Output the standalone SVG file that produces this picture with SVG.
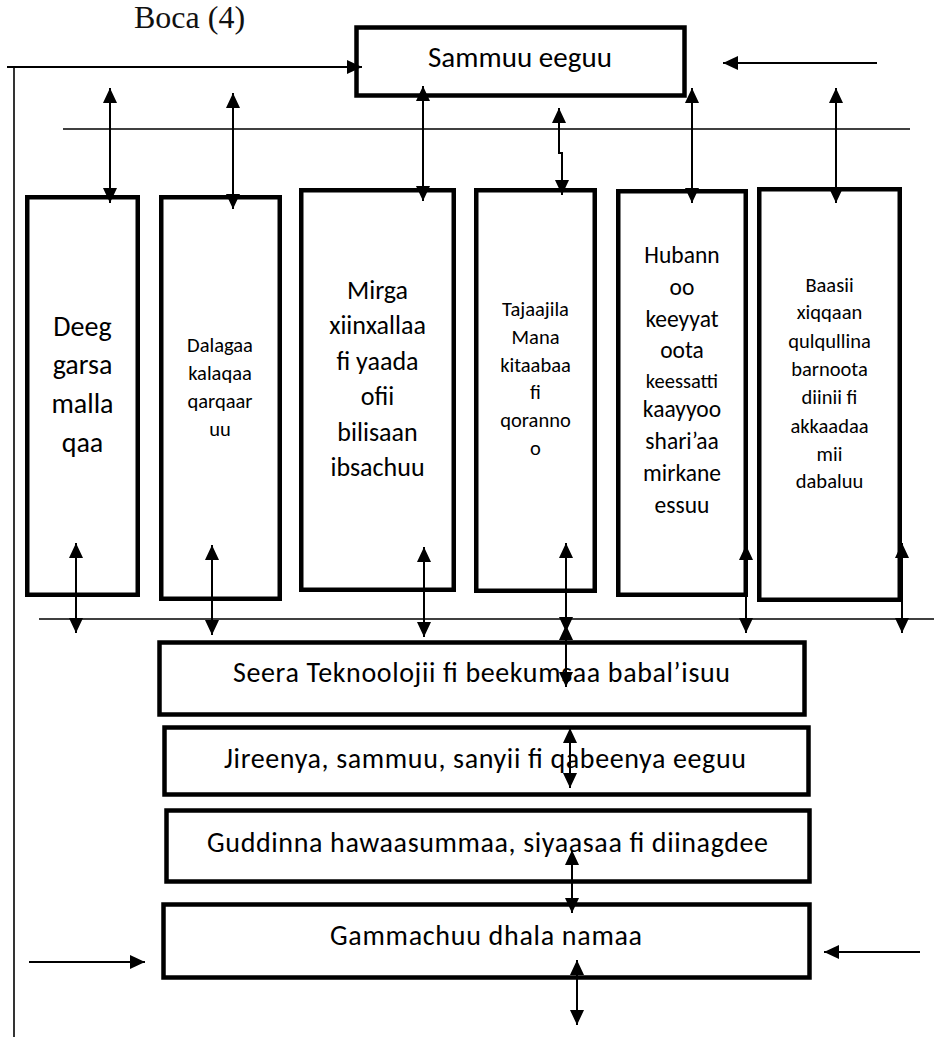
<svg xmlns="http://www.w3.org/2000/svg" width="934" height="1039" viewBox="0 0 934 1039">
<style>
  .box{fill:#fff;stroke:#000;stroke-width:4.5}
  .t{font-family:Carlito,Lato,"Noto Sans",sans-serif;fill:#000;text-anchor:middle}
  .ln{stroke:#000;stroke-width:2;fill:none}
  .thin{stroke:#000;stroke-width:1.6;fill:none}
  .a2{stroke:#000;stroke-width:2;fill:none;marker-start:url(#ah);marker-end:url(#ah)}
  .a1{stroke:#000;stroke-width:2;fill:none;marker-end:url(#ah)}
</style>
<defs>
  <marker id="ah" markerUnits="userSpaceOnUse" markerWidth="16" markerHeight="16" refX="15" refY="7" orient="auto-start-reverse">
    <path d="M0,0 L15,7 L0,14 z" fill="#000"/>
  </marker>
</defs>
<rect width="934" height="1039" fill="#fff"/>
<text x="134" y="28" font-family="'Liberation Serif',serif" font-size="32" fill="#111">Boca (4)</text>

<g id="n-sammuu"><rect class="box" x="356.5" y="27.5" width="328" height="68" stroke-width="5"/><text class="t" x="520" y="67" font-size="29" textLength="184">Sammuu eeguu</text></g>

<g id="n-deeg"><rect class="box" x="27.25" y="197.25" width="110.5" height="397.5"/>
<text class="t" x="82.5" font-size="28"><tspan x="82.5" y="336">Deeg</tspan><tspan x="82.5" y="374">garsa</tspan><tspan x="82.5" y="413">malla</tspan><tspan x="82.5" y="452">qaa</tspan></text></g>

<g id="n-dalagaa"><rect class="box" x="161.25" y="197.25" width="118.5" height="401.5"/>
<text class="t" font-size="20.5"><tspan x="220" y="352">Dalagaa</tspan><tspan x="220" y="380">kalaqaa</tspan><tspan x="220" y="408">qarqaar</tspan><tspan x="220" y="436">uu</tspan></text></g>

<g id="n-mirga"><rect class="box" x="301.25" y="190.25" width="152.5" height="399.5"/>
<text class="t" font-size="26"><tspan x="377.5" y="299">Mirga</tspan><tspan x="377.5" y="334.4">xiinxallaa</tspan><tspan x="377.5" y="369.8">fi yaada</tspan><tspan x="377.5" y="405.2">ofii</tspan><tspan x="377.5" y="440.6">bilisaan</tspan><tspan x="377.5" y="476">ibsachuu</tspan></text></g>

<g id="n-tajaajila"><rect class="box" x="476.25" y="190.25" width="118.5" height="400.5"/>
<text class="t" font-size="20.5"><tspan x="535.5" y="316">Tajaajila</tspan><tspan x="535.5" y="343.8">Mana</tspan><tspan x="535.5" y="371.6">kitaabaa</tspan><tspan x="535.5" y="399.4">fi</tspan><tspan x="535.5" y="427.2">qoranno</tspan><tspan x="535.5" y="455">o</tspan></text></g>

<g id="n-hubannoo"><rect class="box" x="618.25" y="191.25" width="127.5" height="403.5"/>
<text class="t" font-size="23.5"><tspan x="682" y="263">Hubann</tspan><tspan x="682" y="295">oo</tspan><tspan x="682" y="327">keeyyat</tspan><tspan x="682" y="358">oota</tspan><tspan x="682" y="388" font-size="20.5">keessatti</tspan><tspan x="682" y="417">kaayyoo</tspan><tspan x="682" y="449">shari’aa</tspan><tspan x="682" y="481">mirkane</tspan><tspan x="682" y="513">essuu</tspan></text></g>

<g id="n-baasii"><rect class="box" x="759.25" y="189.25" width="140.5" height="410.5"/>
<text class="t" font-size="20.5"><tspan x="829.5" y="292">Baasii</tspan><tspan x="829.5" y="319">xiqqaan</tspan><tspan x="829.5" y="348">qulqullina</tspan><tspan x="829.5" y="376">barnoota</tspan><tspan x="829.5" y="404">diinii fi</tspan><tspan x="829.5" y="433">akkaadaa</tspan><tspan x="829.5" y="461">mii</tspan><tspan x="829.5" y="488">dabaluu</tspan></text></g>

<g id="n-seera"><rect class="box" x="159.5" y="642.5" width="645" height="72"/><text class="t" x="481.5" y="682" font-size="28" textLength="497">Seera Teknoolojii fi beekumsaa babal’isuu</text></g>
<g id="n-jireenya"><rect class="box" x="164.5" y="727.5" width="644" height="67"/><text class="t" x="485" y="768" font-size="28" textLength="522">Jireenya, sammuu, sanyii fi qabeenya eeguu</text></g>
<g id="n-guddinna"><rect class="box" x="166.5" y="810.5" width="643" height="71"/><text class="t" x="487.5" y="852" font-size="28" textLength="561">Guddinna hawaasummaa, siyaasaa fi diinagdee</text></g>
<g id="n-gammachuu"><rect class="box" x="163.5" y="904.5" width="646" height="73"/><text class="t" x="486" y="945" font-size="28" textLength="312">Gammachuu dhala namaa</text></g>

<g id="connectors">
  <line class="thin" x1="14" y1="67" x2="14" y2="1037"/>
  <line class="a1" x1="7" y1="67" x2="362" y2="67"/>
  <line class="a1" x1="877" y1="63" x2="723" y2="63"/>
  <line class="thin" x1="63" y1="129" x2="910" y2="129"/>
  <line class="a2" x1="110" y1="88" x2="110" y2="203"/>
  <line class="a2" x1="233" y1="93" x2="233" y2="209"/>
  <line class="a2" x1="423" y1="86" x2="423" y2="201"/>
  <path class="a2" d="M559,108 L559,153 L562,153 L562,195"/>
  <line class="a2" x1="692" y1="88" x2="692" y2="203"/>
  <line class="a2" x1="836" y1="88" x2="836" y2="203"/>
  <line class="thin" x1="39" y1="619" x2="934" y2="619"/>
  <line class="a2" x1="76" y1="543" x2="76" y2="633"/>
  <line class="a2" x1="212" y1="545" x2="212" y2="635"/>
  <line class="a2" x1="424" y1="547" x2="424" y2="637"/>
  <line class="a2" x1="566" y1="543" x2="566" y2="632"/>
  <line class="a2" x1="566" y1="625" x2="566" y2="687"/>
  <line class="a2" x1="746" y1="545" x2="746" y2="633"/>
  <line class="a2" x1="902" y1="543" x2="902" y2="633"/>
  <line class="a2" x1="570" y1="728" x2="570" y2="788"/>
  <line class="a2" x1="572" y1="850" x2="572" y2="913"/>
  <line class="a2" x1="577" y1="960" x2="577" y2="1025"/>
  <line class="a1" x1="29" y1="962" x2="145" y2="962"/>
  <line class="a1" x1="920" y1="952" x2="824" y2="952"/>
</g>
</svg>
